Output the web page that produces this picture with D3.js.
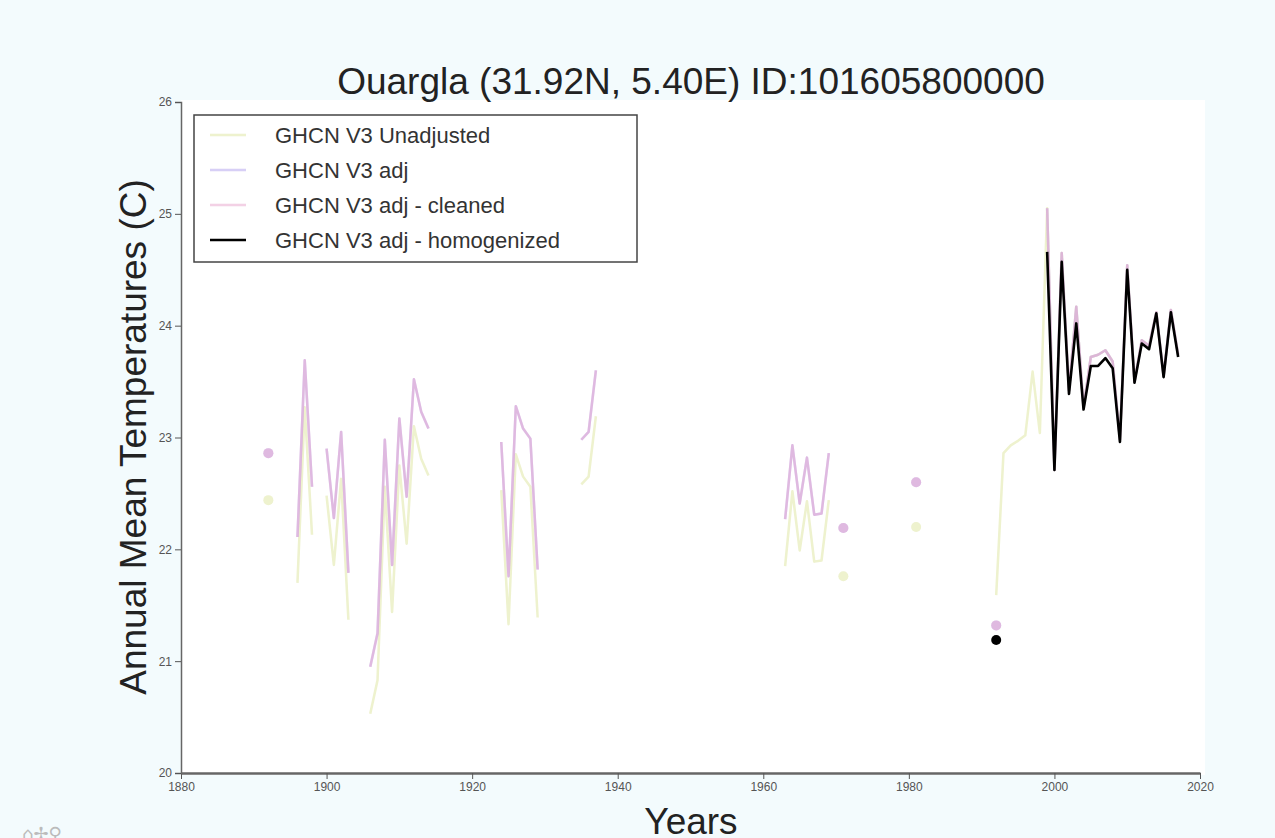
<!DOCTYPE html>
<html>
<head>
<meta charset="utf-8">
<script src="https://cdn.jsdelivr.net/npm/d3@7"></script>
<style>
  body { margin: 0; background: #f3fbfd; }
  svg { display: block; font-family: "Liberation Sans", Arial, sans-serif; }
</style>
</head>
<body>
<svg id="chart" width="1275" height="838"></svg>
<script>
// years that show up in at least one series
let years = [1892, 1896, 1897, 1898, 1900, 1901, 1902, 1903,
    1906, 1907, 1908, 1909, 1910, 1911, 1912, 1913, 1914,
    1924, 1925, 1926, 1927, 1928, 1929, 1935, 1936, 1937,
    1963, 1964, 1965, 1966, 1967, 1968, 1969, 1971, 1981,
    1992, 1993, 1994, 1995, 1996, 1997, 1998, 1999, 2000, 2001, 2002, 2003,
    2004, 2005, 2006, 2007, 2008, 2009, 2010, 2011, 2012, 2013, 2014, 2015, 2016, 2017];

let unadjusted = [22.44, 21.70, 23.27, 22.13, 22.48, 21.86, 22.63, 21.37,
    20.53, 20.83, 22.56, 21.44, 22.75, 22.05, 23.10, 22.81, 22.66,
    22.53, 21.33, 22.85, 22.65, 22.56, 21.39, 22.58, 22.65, 23.19,
    21.85, 22.52, 21.99, 22.43, 21.89, 21.90, 22.44, 21.76, 22.20,
    21.59, 22.86, 22.93, 22.97, 23.02, 23.59, 23.04, 25.05, 22.71, 24.65, 23.42, 24.17,
    23.27, 23.72, 23.74, 23.78, 23.68, 22.98, 24.54, 23.50, 23.87, 23.82, 24.12, 23.55, 24.14, 23.74];

let adj = [22.86, 22.11, 23.69, 22.56, 22.90, 22.28, 23.05, 21.79,
    20.95, 21.25, 22.98, 21.86, 23.17, 22.47, 23.52, 23.23, 23.08,
    22.96, 21.76, 23.28, 23.08, 22.99, 21.82, 22.98, 23.05, 23.60,
    22.27, 22.93, 22.41, 22.82, 22.31, 22.32, 22.86, 22.19, 22.60,
    21.32, null, null, null, null, null, null, 25.05, 22.71, 24.65, 23.42, 24.17,
    23.27, 23.72, 23.74, 23.78, 23.68, 22.98, 24.54, 23.50, 23.87, 23.82, 24.12, 23.55, 24.14, 23.74];

let cleaned = [22.86, 22.11, 23.69, 22.56, 22.90, 22.28, 23.05, 21.79,
    20.95, 21.25, 22.98, 21.86, 23.17, 22.47, 23.52, 23.23, 23.08,
    22.96, 21.76, 23.28, 23.08, 22.99, 21.82, 22.98, 23.05, 23.60,
    22.27, 22.93, 22.41, 22.82, 22.31, 22.32, 22.86, 22.19, 22.60,
    21.32, null, null, null, null, null, null, 25.05, 22.71, 24.65, 23.42, 24.17,
    23.27, 23.72, 23.74, 23.78, 23.68, 22.98, 24.54, 23.50, 23.87, 23.82, 24.12, 23.55, 24.14, 23.74];

let homogenized = [null, null, null, null, null, null, null, null,
    null, null, null, null, null, null, null, null, null,
    null, null, null, null, null, null, null, null, null,
    null, null, null, null, null, null, null, null, null,
    21.19, null, null, null, null, null, null, 24.66, 22.71, 24.57, 23.39, 24.02,
    23.25, 23.64, 23.64, 23.71, 23.62, 22.96, 24.50, 23.49, 23.84, 23.79, 24.11, 23.54, 24.12, 23.72];

let seriesNames = ['GHCN V3 Unadjusted', 'GHCN V3 adj', 'GHCN V3 adj - cleaned', 'GHCN V3 adj - homogenized'];
let seriesValues = [unadjusted, adj, cleaned, homogenized];
let seriesColors = ['#eaefc2', '#b8a8f0', '#e8a4cc', '#000000'];
let seriesOpacity = [0.8, 0.55, 0.5, 1];
let seriesWidths = [2.5, 2.5, 2.5, 2.6];

let xTicks = [1880, 1900, 1920, 1940, 1960, 1980, 2000, 2020];
let yTicks = [20, 21, 22, 23, 24, 25, 26];

let svg = d3.select('#chart');

let x = d3.scaleLinear().domain([1880, 2020]).range([181, 1200]);
let y = d3.scaleLinear().domain([20, 26]).range([773, 102]);

// white plot area
svg.append('rect')
    .attr('x', 181)
    .attr('y', 100)
    .attr('width', 1024)
    .attr('height', 675)
    .attr('fill', '#ffffff');

// break each series where a year is skipped or a value is missing
function segments(values) {
    let segs = [];
    let cur = [];
    years.forEach((yr, i) => {
        let v = values[i];
        if (v == null || (cur.length && yr - cur[cur.length - 1][0] > 1)) {
            if (cur.length) segs.push(cur);
            cur = [];
        }
        if (v != null) cur.push([yr, v]);
    });
    if (cur.length) segs.push(cur);
    return segs;
}

let line = d3.line()
    .x(d => x(d[0]))
    .y(d => y(d[1]));

seriesValues.forEach((values, k) => {
    let g = svg.append('g')
        .attr('opacity', seriesOpacity[k]);
    let segs = segments(values);
    g.selectAll('path')
        .data(segs.filter(s => s.length > 1))
        .enter()
        .append('path')
        .attr('d', line)
        .attr('fill', 'none')
        .attr('stroke', seriesColors[k])
        .attr('stroke-width', seriesWidths[k])
        .attr('stroke-linejoin', 'round');
    g.selectAll('circle')
        .data(segs.filter(s => s.length == 1))
        .enter()
        .append('circle')
        .attr('cx', d => x(d[0][0]))
        .attr('cy', d => y(d[0][1]))
        .attr('r', 5)
        .attr('fill', seriesColors[k]);
});

// axes
let xAxis = svg.append('g')
    .attr('transform', 'translate(0,773)')
    .call(d3.axisBottom(x).tickValues(xTicks).tickFormat(d3.format('d')).tickSizeOuter(0));
xAxis.select('.domain').attr('stroke', '#666').attr('stroke-width', 2.5);

let yAxis = svg.append('g')
    .attr('transform', 'translate(181,0)')
    .call(d3.axisLeft(y).tickValues(yTicks).tickFormat(d3.format('d')));
yAxis.select('.domain').attr('stroke', '#666').attr('stroke-width', 1.5);

svg.selectAll('.tick line').attr('stroke', '#555');
svg.selectAll('.tick text')
    .attr('fill', '#555')
    .style('font-size', '12px')
    .style('font-family', '"Liberation Sans Narrow", "Liberation Sans", Arial, sans-serif');

// title and labels
svg.append('text')
    .attr('x', 691)
    .attr('y', 94)
    .attr('text-anchor', 'middle')
    .attr('fill', '#222')
    .style('font-size', '37px')
    .text('Ouargla (31.92N, 5.40E) ID:101605800000');

svg.append('text')
    .attr('x', 691)
    .attr('y', 834)
    .attr('text-anchor', 'middle')
    .attr('fill', '#222')
    .style('font-size', '37px')
    .text('Years');

svg.append('text')
    .attr('transform', 'translate(146,437) rotate(-90)')
    .attr('text-anchor', 'middle')
    .attr('fill', '#222')
    .style('font-size', '37px')
    .text('Annual Mean Temperatures (C)');

// legend
let legend = svg.append('g');
legend.append('rect')
    .attr('x', 194)
    .attr('y', 115)
    .attr('width', 443)
    .attr('height', 147)
    .attr('fill', '#ffffff')
    .attr('stroke', '#444')
    .attr('stroke-width', 1.5);

seriesNames.forEach((name, k) => {
    let ly = 135 + k * 35;
    legend.append('line')
        .attr('x1', 210)
        .attr('x2', 246)
        .attr('y1', ly)
        .attr('y2', ly)
        .attr('stroke', seriesColors[k])
        .attr('stroke-width', seriesWidths[k])
        .attr('opacity', seriesOpacity[k]);
    legend.append('text')
        .attr('x', 275)
        .attr('y', ly + 8)
        .attr('fill', '#333')
        .style('font-size', '22px')
        .text(name);
});

// toolbar glyphs in the corner
svg.append('text')
    .attr('x', 22)
    .attr('y', 840)
    .attr('fill', '#bbb')
    .style('font-size', '18px')
    .style('font-family', '"DejaVu Sans", sans-serif')
    .text('⌂✢⚲');
</script>
</body>
</html>
